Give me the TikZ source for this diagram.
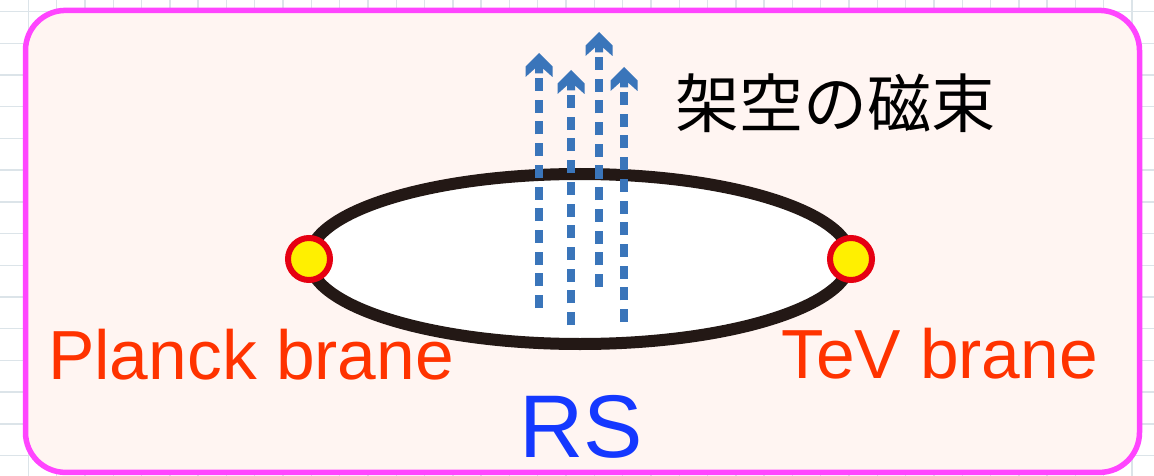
\documentclass[tikz,border=0pt]{standalone}
\usepackage{fontspec}
\setmainfont{Liberation Sans}
\newfontfamily\jpfont{Noto Sans CJK JP}
\usetikzlibrary{shapes.geometric}
\definecolor{frameM}{HTML}{FF45FF}
\definecolor{frameF}{HTML}{FFF5F2}
\definecolor{gridC}{HTML}{DCE4E9}
\definecolor{ringR}{HTML}{E60012}
\definecolor{dotY}{HTML}{FFF000}
\definecolor{fluxB}{HTML}{3A75BA}
\definecolor{braneR}{HTML}{FF3300}
\definecolor{rsB}{HTML}{1438FF}
\definecolor{loopK}{HTML}{231815}
\tikzset{
  gridline/.style={gridC, line width=1.4pt},
  framebox/.style={draw=frameM, fill=frameF, line width=5.5pt, rectangle,
    rounded corners=40pt, minimum width=1114pt, minimum height=462pt, inner sep=0pt},
  loop/.style={draw=loopK, fill=white, line width=12pt, ellipse,
    minimum width=542pt, minimum height=170pt, inner sep=0pt},
  branedot/.style={draw=ringR, fill=dotY, line width=6pt, circle,
    minimum size=42pt, inner sep=0pt},
  fluxshaft/.style={draw=fluxB, line width=8pt, dash pattern=on 13pt off 8.7pt},
  fluxhead/.style={fill=fluxB},
  branelabel/.style={text=braneR, font=\fontsize{69.5}{80}\selectfont, inner sep=0pt},
  rslabel/.style={text=rsB, font=\fontsize{89}{100}\selectfont, inner sep=0pt},
  jplabel/.style={text=black, font=\jpfont\fontsize{64}{72}\selectfont, inner sep=0pt},
}
\newcommand\fluxarrow[4]{%
  \coordinate (#1t) at (#2,#3);
  \coordinate (#1h) at (#2,{#3+24});
  \coordinate (#1b) at (#2,#4);
  \draw[fluxshaft] (#1b) -- (#1h);
  \fill[fluxhead] (#1t) -- ++(13.5,13.5) -- ++(0,10.5) -- ++(-9.5,-8.5) -- ++(0,5)
    -- ++(-8,0) -- ++(0,-5) -- ++(-9.5,8.5) -- ++(0,-10.5) -- cycle;
}
\begin{document}
\begin{tikzpicture}[x=1pt,y=-1pt]
\useasboundingbox (0,0) rectangle (1154,476);
\fill[white] (0,0) rectangle (1154,476);
\foreach \i in {1,...,40} \draw[gridline] ({28.3*\i},0) -- ({28.3*\i},476);
\foreach \j in {0,...,14} \draw[gridline] (0,{11.7+31.7*\j}) -- (1154,{11.7+31.7*\j});
\node[framebox] (frame) at (582.5,241.4) {};
\node[loop] (ring) at (580,259) {};
\node[branedot] (planckdot) at (309,259) {};
\node[branedot] (tevdot) at (851,259) {};
\fluxarrow{fa}{539}{53}{308}
\fluxarrow{fb}{571}{70}{325}
\fluxarrow{fc}{599}{32}{287}
\fluxarrow{fd}{624}{67}{322}
\node[jplabel] (fluxtext) at (835,103) {架空の磁束};
\node[branelabel, anchor=base west] (planck) at (48,379) {Planck brane};
\node[branelabel, anchor=base west] (tev) at (781,378) {TeV brane};
\node[rslabel, anchor=base] (rs) at (581,457) {RS};
\end{tikzpicture}
\end{document}
